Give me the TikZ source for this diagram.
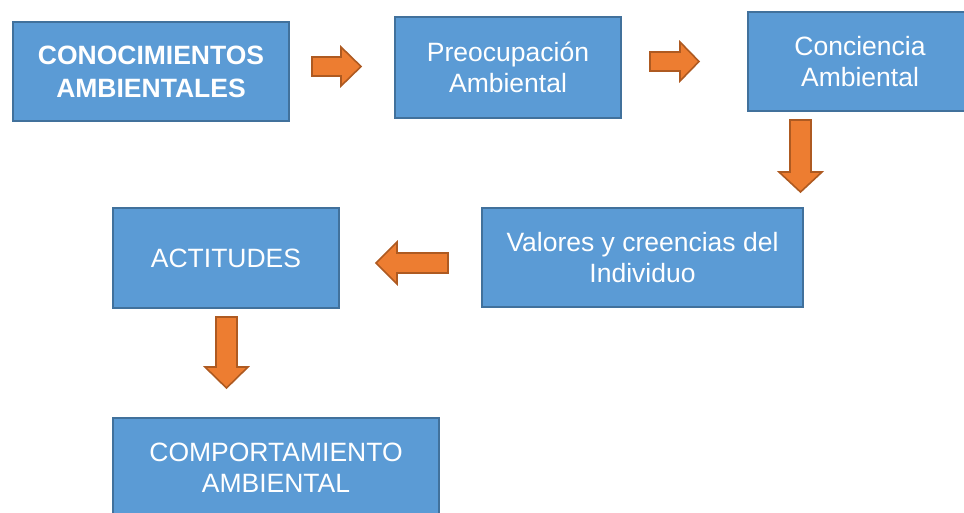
\documentclass[tikz,border=0pt]{standalone}
\usepackage{fontspec}
\setmainfont{Liberation Sans}
\definecolor{boxfill}{HTML}{5B9BD5}
\definecolor{boxline}{HTML}{41719C}
\definecolor{arrfill}{HTML}{ED7D31}
\definecolor{arrline}{HTML}{AE5A21}
\tikzset{
  box/.style={draw=boxline, fill=boxfill, line width=2pt, text=white, align=center,
    font=\fontsize{26.5}{31}\selectfont, inner sep=0pt, anchor=north west},
  blockarr/.style={draw=arrline, fill=arrfill, line width=1.6pt, line join=miter},
}
\begin{document}
\begin{tikzpicture}[x=1pt,y=-1pt]
\useasboundingbox (0,0) rectangle (964,512);
\clip (0,0) rectangle (964,512);
\node[box, minimum width=276pt, minimum height=99pt, font=\fontsize{26.5}{33}\selectfont\bfseries] (b1) at (12,21) {CONOCIMIENTOS\\AMBIENTALES};
\node[box, minimum width=226pt, minimum height=101pt] (b2) at (394,16) {Preocupación\\Ambiental};
\node[box, minimum width=224pt, minimum height=99pt] (b3) at (747,11) {Conciencia\\Ambiental};
\node[box, minimum width=321pt, minimum height=99pt] (b4) at (481,207) {Valores y creencias del\\Individuo};
\node[box, minimum width=226pt, minimum height=100pt] (b5) at (112,207) {ACTITUDES};
\node[box, minimum width=326pt, minimum height=100pt] (b6) at (112,417) {COMPORTAMIENTO\\AMBIENTAL};
% block arrows
\draw[blockarr] (312,57) -- (341,57) -- (341,47) -- (361,66.5) -- (341,86) -- (341,76) -- (312,76) -- cycle;
\draw[blockarr] (650,52) -- (680,52) -- (680,42) -- (699,61.5) -- (680,81) -- (680,71) -- (650,71) -- cycle;
\draw[blockarr] (790,120) -- (790,172) -- (779,172) -- (800.5,192) -- (822,172) -- (811,172) -- (811,120) -- cycle;
\draw[blockarr] (448,253) -- (397,253) -- (397,242) -- (376,263) -- (397,284) -- (397,273) -- (448,273) -- cycle;
\draw[blockarr] (216,317) -- (216,367) -- (205,367) -- (226.5,388) -- (248,367) -- (237,367) -- (237,317) -- cycle;
\end{tikzpicture}
\end{document}
